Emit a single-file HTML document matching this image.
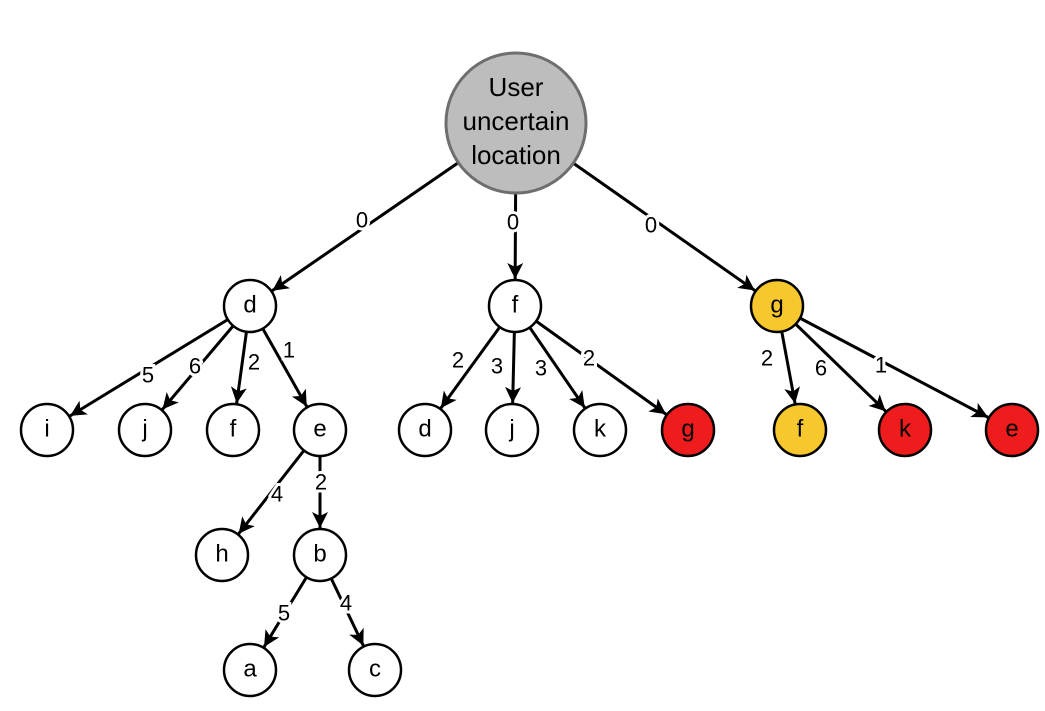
<!DOCTYPE html>
<html><head><meta charset="utf-8"><style>
html,body{margin:0;padding:0;background:#fff;}
svg{display:block;font-family:"Liberation Sans",Arial,sans-serif;}
.e{stroke:#000;stroke-width:3;fill:none;marker-end:url(#ah);}
.n{fill:#fff;stroke:#000;stroke-width:2.5;}
.t{font-size:24px;text-anchor:middle;dominant-baseline:central;fill:#000;}
.r{font-size:26px;text-anchor:middle;dominant-baseline:central;fill:#000;}
.l{font-size:22px;text-anchor:middle;dominant-baseline:central;fill:#000;stroke:#fff;stroke-width:6px;paint-order:stroke;}
</style></head><body>
<svg width="1045" height="711" viewBox="0 0 1045 711">
<defs>
<marker id="ah" markerUnits="userSpaceOnUse" markerWidth="60" markerHeight="30" viewBox="-30 -15 60 30" refX="27" refY="0" orient="auto" overflow="visible">
<path d="M0,0 L-16,-8 L-12,0 L-16,8 Z" fill="#000"/>
</marker>
</defs>
<line class="e" x1="516" y1="123" x2="250" y2="306"/>
<line class="e" x1="516" y1="123" x2="515" y2="306"/>
<line class="e" x1="516" y1="123" x2="777" y2="306"/>
<line class="e" x1="250" y1="306" x2="47" y2="430"/>
<line class="e" x1="250" y1="306" x2="145" y2="430"/>
<line class="e" x1="250" y1="306" x2="233" y2="430"/>
<line class="e" x1="250" y1="306" x2="320" y2="430"/>
<line class="e" x1="515" y1="306" x2="425" y2="430"/>
<line class="e" x1="515" y1="306" x2="512" y2="430"/>
<line class="e" x1="515" y1="306" x2="600" y2="430"/>
<line class="e" x1="515" y1="306" x2="688" y2="430"/>
<line class="e" x1="777" y1="306" x2="800" y2="430"/>
<line class="e" x1="777" y1="306" x2="905" y2="430"/>
<line class="e" x1="777" y1="306" x2="1012" y2="430"/>
<line class="e" x1="320" y1="430" x2="222" y2="555"/>
<line class="e" x1="320" y1="430" x2="320" y2="555"/>
<line class="e" x1="320" y1="555" x2="250" y2="670"/>
<line class="e" x1="320" y1="555" x2="375" y2="670"/>
<text class="l" x="362" y="220">0</text>
<text class="l" x="513" y="222">0</text>
<text class="l" x="651" y="225">0</text>
<text class="l" x="148" y="375">5</text>
<text class="l" x="195" y="366">6</text>
<text class="l" x="254" y="362">2</text>
<text class="l" x="289" y="350">1</text>
<text class="l" x="458" y="360">2</text>
<text class="l" x="497" y="366">3</text>
<text class="l" x="541" y="368">3</text>
<text class="l" x="589" y="358">2</text>
<text class="l" x="767" y="358">2</text>
<text class="l" x="821" y="368">6</text>
<text class="l" x="881" y="365">1</text>
<text class="l" x="277" y="494">4</text>
<text class="l" x="321" y="482">2</text>
<text class="l" x="284" y="613">5</text>
<text class="l" x="346" y="603">4</text>
<circle cx="516" cy="123" r="70" fill="#bdbdbd" stroke="#6e6e6e" stroke-width="3"/>
<text class="r" x="516" y="87">User</text>
<text class="r" x="516" y="121">uncertain</text>
<text class="r" x="516" y="155">location</text>
<circle class="n" cx="250" cy="306" r="26"/><text class="t" x="250" y="305">d</text>
<circle class="n" cx="515" cy="306" r="26"/><text class="t" x="515" y="305">f</text>
<circle class="n" cx="777" cy="306" r="26" style="fill:#f7c72e"/><text class="t" x="777" y="305">g</text>
<circle class="n" cx="47" cy="430" r="26"/><text class="t" x="47" y="429">i</text>
<circle class="n" cx="145" cy="430" r="26"/><text class="t" x="145" y="429">j</text>
<circle class="n" cx="233" cy="430" r="26"/><text class="t" x="233" y="429">f</text>
<circle class="n" cx="320" cy="430" r="26"/><text class="t" x="320" y="429">e</text>
<circle class="n" cx="425" cy="430" r="26"/><text class="t" x="425" y="429">d</text>
<circle class="n" cx="512" cy="430" r="26"/><text class="t" x="512" y="429">j</text>
<circle class="n" cx="600" cy="430" r="26"/><text class="t" x="600" y="429">k</text>
<circle class="n" cx="688" cy="430" r="26" style="fill:#ee1c1c"/><text class="t" x="688" y="429">g</text>
<circle class="n" cx="800" cy="430" r="26" style="fill:#f7c72e"/><text class="t" x="800" y="429">f</text>
<circle class="n" cx="905" cy="430" r="26" style="fill:#ee1c1c"/><text class="t" x="905" y="429">k</text>
<circle class="n" cx="1012" cy="430" r="26" style="fill:#ee1c1c"/><text class="t" x="1012" y="429">e</text>
<circle class="n" cx="222" cy="555" r="26"/><text class="t" x="222" y="554">h</text>
<circle class="n" cx="320" cy="555" r="26"/><text class="t" x="320" y="554">b</text>
<circle class="n" cx="250" cy="670" r="26"/><text class="t" x="250" y="669">a</text>
<circle class="n" cx="375" cy="670" r="26"/><text class="t" x="375" y="669">c</text>
</svg>
</body></html>
